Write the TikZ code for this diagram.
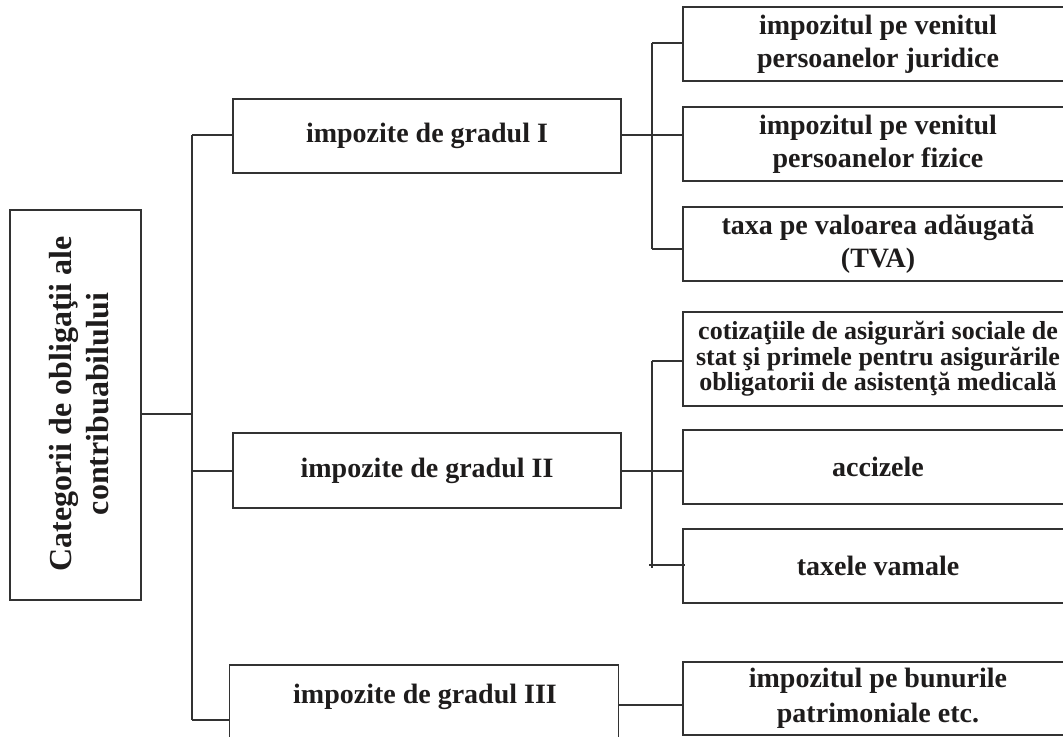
\documentclass[tikz,border=0pt]{standalone}
\usepackage{fontspec}
\setmainfont{Liberation Serif}
\definecolor{ln}{RGB}{50,50,50}
\definecolor{tx}{RGB}{30,28,28}
\begin{document}
\begin{tikzpicture}[x=0.75pt,y=-0.75pt,
  txt/.style={align=center,text=tx,inner sep=0pt,font=\bfseries\fontsize{21}{24.75}\selectfont},
  box/.style={txt,draw=ln,line width=1.4pt},
  lvl/.style={box,minimum width=291pt,minimum height=55.5pt},
  rbox/.style={box,minimum width=292.5pt,minimum height=55.5pt},
  conn/.style={draw=ln,line width=1.2pt}]
\useasboundingbox (0,0) rectangle (1063,737);
% root
\node[box,minimum width=98.25pt,minimum height=292.5pt] (root) at (75.5,405) {};
\node[txt,rotate=90,font=\bfseries\fontsize{24}{27.75}\selectfont] (roottxt) at (79,404) {Categorii de obligaţii ale\\contribuabilului};
% level 1
\node[lvl] (g1) at (427,136) {impozite de gradul I};
\node[lvl,minimum height=56.25pt] (g2) at (427,470.5) {impozite de gradul II};
\node[box,minimum width=291.75pt,minimum height=60pt] (g3) at (424,705) {};
\node[txt] (g3txt) at (425,697) {impozite de gradul III};
% level 2
\node[rbox] (r1) at (878,44) {impozitul pe venitul\\persoanelor juridice};
\node[rbox] (r2) at (878,144) {impozitul pe venitul\\persoanelor fizice};
\node[rbox] (r3) at (878,244) {taxa pe valoarea adăugată\\(TVA)};
\node[rbox,minimum height=70.5pt,font=\bfseries\fontsize{19.5}{17.25}\selectfont] (r4) at (878,359) {cotizaţiile de asigurări sociale de\\stat şi primele pentru asigurările\\obligatorii de asistenţă medicală};
\node[rbox] (r5) at (878,467) {accizele};
\node[rbox] (r6) at (878,566) {taxele vamale};
\node[rbox,minimum height=54.75pt,font=\bfseries\fontsize{21}{26}\selectfont] (r7) at (878,698.5) {impozitul pe bunurile\\patrimoniale etc.};
% junction coordinates
\coordinate (t0) at (192,414);
\coordinate (t1) at (192,135);
\coordinate (t2) at (192,471);
\coordinate (t3) at (192,720);
\coordinate (a0) at (652,135);
\coordinate (a1) at (652,43);
\coordinate (a3) at (652,249);
\coordinate (b0) at (652,471);
\coordinate (b1) at (652,361);
\coordinate (b3) at (652,568);
\coordinate (b3l) at (649,565);
\coordinate (c0) at (650,705);
% connectors
\draw[conn] (root.east |- t0) -- (t0);
\draw[conn] (t1) -- (t3);
\draw[conn] (t1) -- (g1.west |- t1);
\draw[conn] (t2) -- (g2.west |- t2);
\draw[conn] (t3) -- (g3.west |- t3);
\draw[conn] (g1.east |- a0) -- (r2.west |- a0);
\draw[conn] (a1) -- (a3);
\draw[conn] (a1) -- (r1.west |- a1);
\draw[conn] (a3) -- (r3.west |- a3);
\draw[conn] (g2.east |- b0) -- (r5.west |- b0);
\draw[conn] (b1) -- (b3);
\draw[conn] (b1) -- (r4.west |- b1);
\draw[conn] (b3l) -- ([xshift=2]r6.west |- b3l);
\draw[conn] (g3.east |- c0) -- (r7.west |- c0);
\end{tikzpicture}
\end{document}
